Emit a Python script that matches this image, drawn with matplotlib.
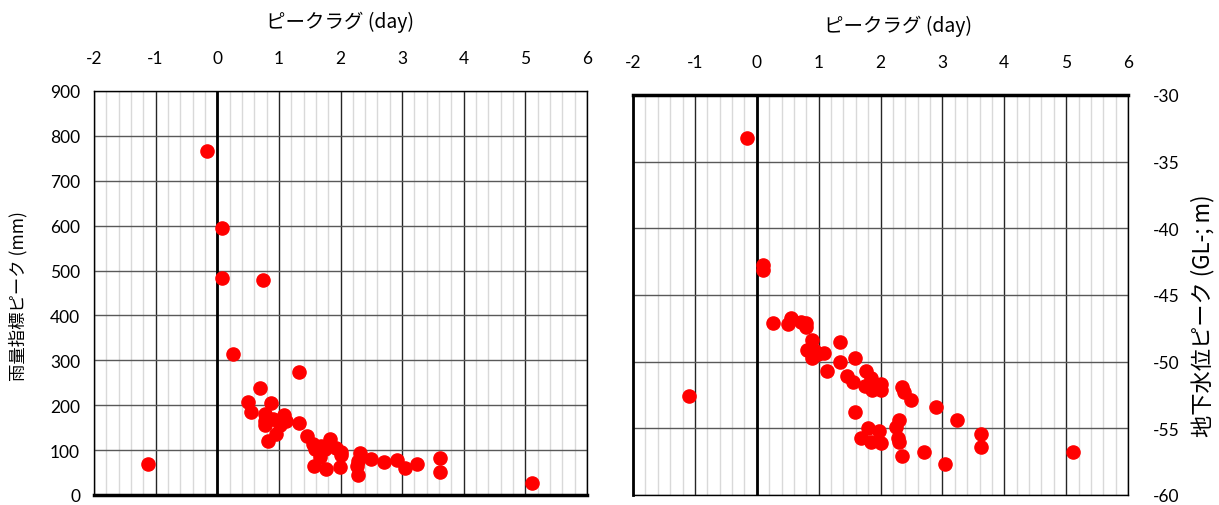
import numpy as np
import matplotlib.pyplot as plt
from matplotlib.ticker import MultipleLocator

# 雨量指標ピーク vs ピークラグ
lag_rain = [-1.12, -0.17, 0.08, 0.08, 0.75, 0.25, 1.33, 0.70, 0.50, 0.54,
            0.87, 0.78, 0.78, 0.78, 0.91, 1.09, 1.12, 1.02, 0.96, 0.83,
            1.33, 1.46, 1.56, 1.59, 1.67, 1.83, 1.75, 2.00, 1.57, 1.77,
            1.99, 2.32, 2.29, 2.27, 2.28, 2.49, 2.70, 2.92, 3.04, 3.24,
            3.62, 3.62, 5.11, 1.68, 1.93, 2.01]
rain_peak = [70, 767, 595, 483, 478, 313, 275, 238, 207, 186,
             205, 181, 165, 156, 169, 178, 165, 156, 137, 121,
             160, 132, 114, 102, 84, 125, 102, 95, 64, 59,
             63, 94, 76, 64, 45, 80, 74, 79, 60, 69,
             82, 51, 26, 110, 104, 90]

# 地下水位ピーク vs ピークラグ
lag_gw = [-0.16, 0.10, 0.10, -1.10, 0.26, 0.51, 0.55, 0.72, 0.79, 0.80,
          0.89, 0.81, 0.92, 0.90, 0.99, 1.09, 1.13, 1.34, 1.34, 1.58,
          1.46, 1.56, 1.76, 1.85, 1.75, 1.87, 2.00, 2.00, 2.34, 2.38,
          2.50, 2.90, 1.58, 1.80, 1.98, 1.68, 1.84, 2.00, 2.30, 2.25,
          2.29, 2.30, 2.34, 2.71, 3.24, 3.62, 3.62, 3.04, 5.11]
gw_peak = [-33.2, -42.75, -43.1, -52.6, -47.1, -47.2, -46.7, -47.0, -47.1, -47.4,
           -48.4, -49.1, -49.1, -49.7, -49.4, -49.35, -50.7, -48.5, -50.0, -49.7,
           -51.1, -51.55, -50.7, -51.2, -51.85, -52.1, -51.7, -52.1, -51.9, -52.25,
           -52.85, -53.4, -53.8, -55.0, -55.2, -55.7, -56.0, -56.1, -54.4, -54.9,
           -55.75, -56.05, -57.1, -56.75, -54.4, -55.4, -56.4, -57.65, -56.8]

plt.rcParams['axes.unicode_minus'] = False
jp = ['Noto Sans CJK JP', 'DejaVu Sans']
tickfont = 'Lato'

fig = plt.figure(figsize=(12.19, 5.06), dpi=100)
ax1 = fig.add_axes([94/1219, 10/506, 493/1219, 404/506])
ax2 = fig.add_axes([633/1219, 10/506, 495/1219, 400/506])


def style(ax):
    ax.set_xlim(-2, 6)
    ax.xaxis.set_major_locator(MultipleLocator(1))
    ax.xaxis.set_minor_locator(MultipleLocator(0.2))
    ax.grid(which='minor', axis='x', color='#d9d9d9', lw=1, zorder=0)
    ax.grid(which='major', axis='x', color='#262626', lw=1, zorder=1)
    ax.grid(which='major', axis='y', color='#595959', lw=1, zorder=1)
    ax.axvline(0, color='black', lw=2, zorder=2)
    ax.xaxis.tick_top()
    ax.tick_params(which='both', length=0)
    ax.tick_params(axis='x', pad=18, labelsize=12.5)
    for s in ax.spines.values():
        s.set_color('black')
        s.set_linewidth(1)


ax1.scatter(lag_rain, rain_peak, s=90, color='#ff0000', zorder=5, clip_on=False)
ax1.set_ylim(0, 900)
ax1.yaxis.set_major_locator(MultipleLocator(100))
style(ax1)
ax1.tick_params(axis='y', pad=10, labelsize=12.5)
ax1.spines['bottom'].set_linewidth(2.5)

ax2.scatter(lag_gw, gw_peak, s=90, color='#ff0000', zorder=5, clip_on=False)
ax2.set_ylim(-60, -30)
ax2.yaxis.set_major_locator(MultipleLocator(5))
style(ax2)
ax2.yaxis.tick_right()
ax2.tick_params(axis='y', pad=18, labelsize=12.5)
ax2.spines['top'].set_linewidth(2.5)
ax2.spines['left'].set_linewidth(2)

for ax in (ax1, ax2):
    for lab in ax.get_xticklabels() + ax.get_yticklabels():
        lab.set_family(tickfont)

# axis titles
fig.text(18/1219, 1 - 296/506, '雨量指標ピーク (mm)', family=jp, fontsize=12.5,
         rotation=90, ha='center', va='center')
fig.text(1203/1219, 1 - 316/506, '地下水位ピーク (GL-; m)', family=jp, fontsize=16,
         rotation=90, ha='center', va='center')
fig.text(340/1219, 1 - 22/506, 'ピークラグ (day)', family=jp, fontsize=14, ha='center', va='center')
fig.text(898/1219, 1 - 26/506, 'ピークラグ (day)', family=jp, fontsize=14, ha='center', va='center')

fig.savefig('out.png', dpi=100)
